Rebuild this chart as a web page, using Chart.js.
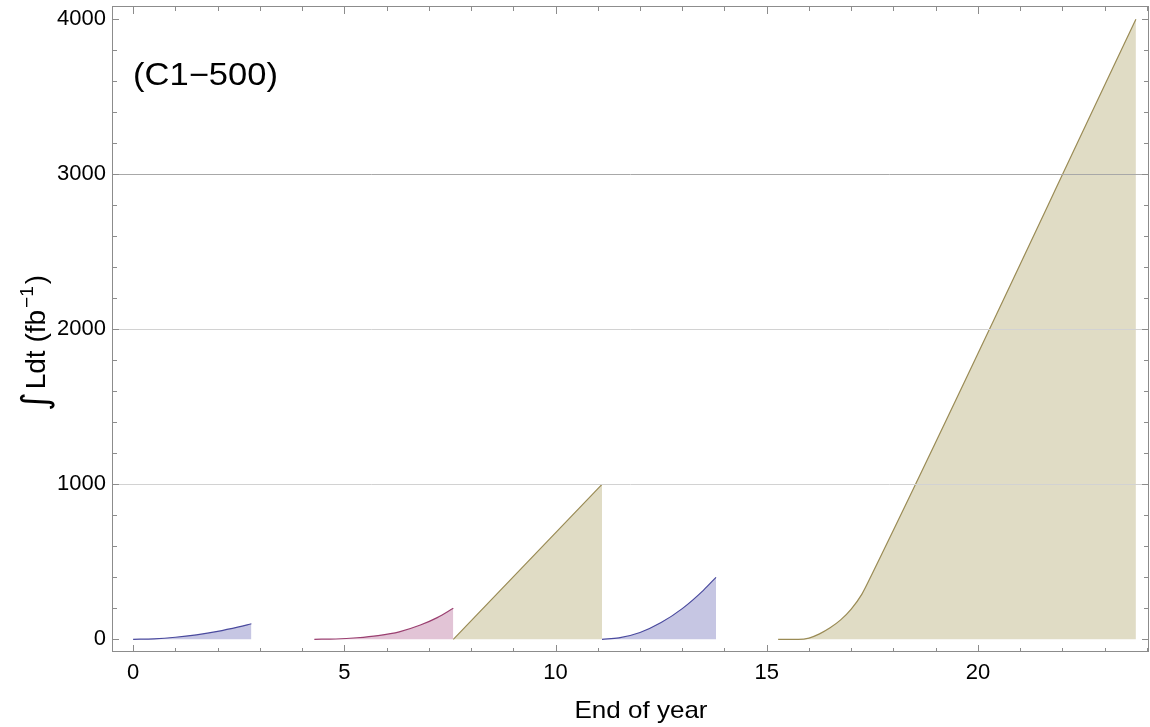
<!DOCTYPE html>
<html>
<head>
<meta charset="utf-8">
<script src="https://cdn.jsdelivr.net/npm/chart.js@4.4.1/dist/chart.umd.min.js"></script>
<style>
  html, body { margin: 0; padding: 0; background: #ffffff; }
  canvas { display: block; }
</style>
</head>
<body>
<canvas id="c" width="1150" height="727"></canvas>
<script>
// ---- data ----
const seg1X = [0, 0.5, 1.0, 1.5, 2.0, 2.5, 2.8];
const seg1Y = [0, 3, 13, 29, 51, 80, 100];

const seg2X = [4.29, 4.8, 5.3, 5.8, 6.3, 6.8, 7.2, 7.58];
const seg2Y = [0, 2, 10, 24, 48, 92, 140, 200];

const seg3X = [7.58, 11.1];
const seg3Y = [0, 1000];

const seg4X = [11.1, 11.5, 12.0, 12.5, 13.0, 13.5, 13.8];
const seg4Y = [0, 9, 44, 108, 198, 316, 400];

const seg5X = [15.27, 15.75, 16.0, 16.25, 16.5, 16.75, 17.0, 17.25, 17.5, 23.74];
const seg5Y = [0, 0, 8, 35, 74, 125, 195, 290, 425, 4000];

const xTickLabels = [0, 5, 10, 15, 20];
const yTickLabels = [0, 1000, 2000, 3000, 4000];
const xTitle = 'End of year';
const yTitleParts = ['\u222B', 'Ldt (fb', '\u22121', ')'];
const panelLabel = '(C1\u2212500)';

// ---- styles ----
const BLUE = { fill: '#c6c6e3', line: '#4a4a9e' };
const PINK = { fill: '#e2c4d6', line: '#9a3f70' };
const TAN  = { fill: '#e0dcc5', line: '#9a8b55' };
const FONT = '"Liberation Sans", Arial, sans-serif';

function pts(xs, ys) { return xs.map((x, i) => ({ x: x, y: ys[i] })); }
function ds(xs, ys, c) {
  return {
    data: pts(xs, ys),
    showLine: true,
    fill: 'origin',
    backgroundColor: c.fill,
    borderColor: c.line,
    borderWidth: 1.2,
    pointRadius: 0,
    cubicInterpolationMode: 'monotone'
  };
}

const framePlugin = {
  id: 'frame',
  afterDatasetsDraw(chart) {
    const { ctx, chartArea: a, scales: { x, y } } = chart;
    ctx.save();
    // horizontal grid lines (drawn over fills)
    [[1000, '#d2d2d2'], [2000, '#d2d2d2'], [3000, '#a8a8a8']].forEach(([v, col]) => {
      const py = Math.round(y.getPixelForValue(v)) + 0.5;
      ctx.strokeStyle = col; ctx.lineWidth = 1;
      ctx.beginPath(); ctx.moveTo(a.left, py); ctx.lineTo(a.right, py); ctx.stroke();
    });
    // frame
    ctx.strokeStyle = '#8c8c8c'; ctx.lineWidth = 1;
    ctx.strokeRect(a.left + 0.5, a.top + 0.5, a.right - a.left - 1, a.bottom - a.top - 1);
    // x ticks (inward, bottom and top)
    for (let v = 0; v <= 24; v++) {
      const px = Math.round(x.getPixelForValue(v)) + 0.5;
      if (px > a.right - 1) continue;
      const major = v % 5 === 0;
      ctx.beginPath();
      ctx.moveTo(px, a.bottom); ctx.lineTo(px, a.bottom - (major ? 7 : 4));
      ctx.moveTo(px, a.top); ctx.lineTo(px, a.top + (major ? 8 : 5));
      ctx.stroke();
    }
    // y ticks (inward, left and right)
    for (let v = 0; v <= 4000; v += 200) {
      const py = Math.round(y.getPixelForValue(v)) + 0.5;
      const major = v % 1000 === 0;
      ctx.beginPath();
      ctx.moveTo(a.left, py); ctx.lineTo(a.left + (major ? 7 : 5), py);
      ctx.moveTo(a.right, py); ctx.lineTo(a.right - (major ? 7 : 5), py);
      ctx.stroke();
    }
    ctx.fillStyle = '#000';

    // panel label (stretched to the reference width)
    ctx.save();
    ctx.font = '31px ' + FONT;
    ctx.textAlign = 'left'; ctx.textBaseline = 'alphabetic';
    const pw = ctx.measureText(panelLabel).width;
    ctx.translate(a.left + 21, 85);
    ctx.scale(145 / pw, 1);
    ctx.fillText(panelLabel, 0, 0);
    ctx.restore();

    // x title
    ctx.save();
    ctx.font = '24px ' + FONT;
    ctx.textAlign = 'center'; ctx.textBaseline = 'middle';
    const xw = ctx.measureText(xTitle).width;
    ctx.translate(641, 711);
    ctx.scale(133 / xw, 1);
    ctx.fillText(xTitle, 0, 0);
    ctx.restore();

    // y title: integral sign, text, superscript, closing paren
    ctx.save();
    ctx.translate(35, 343);
    ctx.rotate(-Math.PI / 2);
    ctx.textAlign = 'left'; ctx.textBaseline = 'alphabetic';
    const fInt = '36px "DejaVu Sans", sans-serif';
    const fMain = '28px ' + FONT;
    const fSup = '19px ' + FONT;
    ctx.font = fInt; const w0 = ctx.measureText(yTitleParts[0]).width;
    ctx.font = fMain; const w1 = ctx.measureText(yTitleParts[1]).width;
    ctx.font = fSup; const w2 = ctx.measureText(yTitleParts[2]).width;
    ctx.font = fMain; const w3 = ctx.measureText(yTitleParts[3]).width;
    const gap = 3;
    const total = w0 + gap + w1 + 2 + w2 + 2 + w3;
    let cx = -total / 2;
    const base = 10;
    ctx.font = fInt; ctx.fillText(yTitleParts[0], cx, base + 2); cx += w0 + gap;
    ctx.font = fMain; ctx.fillText(yTitleParts[1], cx, base); cx += w1 + 2;
    ctx.font = fSup; ctx.fillText(yTitleParts[2], cx, base - 12); cx += w2 + 2;
    ctx.font = fMain; ctx.fillText(yTitleParts[3], cx, base);
    ctx.restore();

    ctx.restore();
  }
};

new Chart(document.getElementById('c'), {
  type: 'scatter',
  data: {
    datasets: [
      ds(seg1X, seg1Y, BLUE),
      ds(seg2X, seg2Y, PINK),
      ds(seg3X, seg3Y, TAN),
      ds(seg4X, seg4Y, BLUE),
      ds(seg5X, seg5Y, TAN)
    ]
  },
  options: {
    responsive: false,
    devicePixelRatio: 1,
    animation: false,
    layout: { padding: { left: 0, right: 1, top: 6, bottom: 0 } },
    plugins: { legend: { display: false }, tooltip: { enabled: false } },
    scales: {
      x: {
        type: 'linear', min: -0.5, max: 24.05,
        grid: { display: false, drawTicks: false },
        border: { display: false },
        afterBuildTicks: s => { s.ticks = xTickLabels.map(v => ({ value: v })); },
        afterFit: s => { s.height = 75; s.paddingLeft = 0; s.paddingRight = 0; },
        ticks: { padding: 8, color: '#000', font: { family: FONT, size: 22 }, maxRotation: 0,
                 callback: v => String(v) }
      },
      y: {
        type: 'linear', min: -82, max: 4086,
        grid: { display: false, drawTicks: false },
        border: { display: false },
        afterBuildTicks: s => { s.ticks = yTickLabels.map(v => ({ value: v })); },
        afterFit: s => { s.width = 112; s.paddingTop = 0; s.paddingBottom = 0; },
        ticks: { padding: 6, color: '#000', font: { family: FONT, size: 22 },
                 callback: v => String(v) }
      }
    }
  },
  plugins: [framePlugin]
});
</script>
</body>
</html>
